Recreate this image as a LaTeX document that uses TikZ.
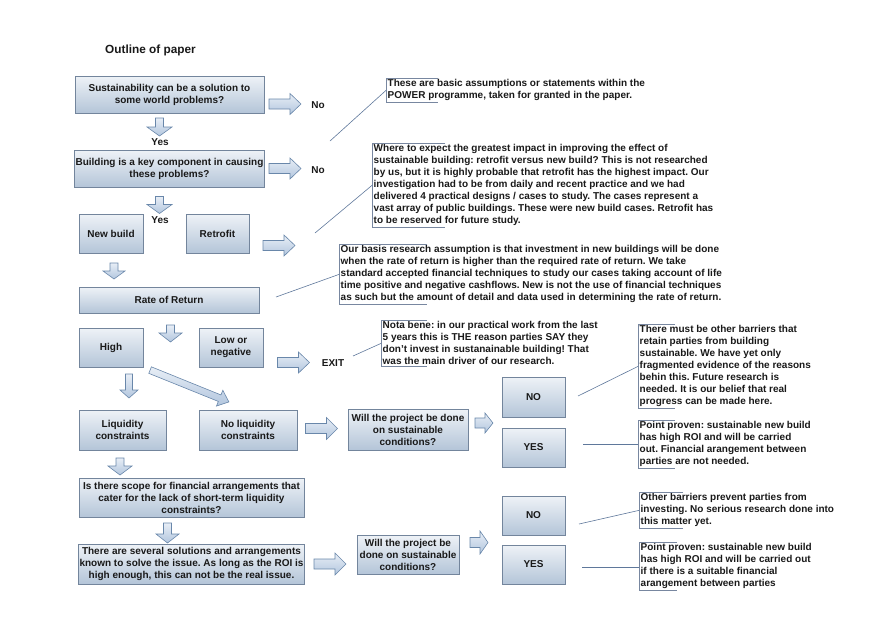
\documentclass[tikz,border=0pt]{standalone}
\usepackage{fontspec}
\setmainfont{Liberation Sans}
\usetikzlibrary{calc}
\frenchspacing
\definecolor{boxtop}{RGB}{238,242,247}
\definecolor{boxbot}{RGB}{180,197,216}
\definecolor{boxline}{RGB}{115,133,156}
\definecolor{arrline}{RGB}{105,135,170}
\definecolor{arrtop}{RGB}{232,238,246}
\definecolor{arrbot}{RGB}{178,198,222}
\definecolor{callline}{RGB}{120,135,160}
\definecolor{leadline}{RGB}{95,120,155}
\newcommand\blockarrow[6]{% center, angle, length, head width, shaft width, head length
  \begin{scope}[shift={(#1)},rotate=#2]
    \shade[arrowbody]
      ({-#3/2},{-#5/2}) -- ({#3/2-#6},{-#5/2}) -- ({#3/2-#6},{-#4/2}) -- ({#3/2},0)
      -- ({#3/2-#6},{#4/2}) -- ({#3/2-#6},{#5/2}) -- ({-#3/2},{#5/2}) -- cycle;
  \end{scope}}
\newcommand\mycallout[4]{% name, north west, bracket length, text
  \node[callout] (#1) at (#2) {#4};
  \draw[bracket] ([xshift=#3]#1.north west) -- (#1.north west) -- (#1.south west) -- ([xshift=#3]#1.south west);}
\begin{document}
\begin{tikzpicture}[x=1pt,y=-1pt,
  every node/.style={font=\bfseries\fontsize{10}{12}\selectfont\frenchspacing, text=black!90},
  box/.style={draw=boxline, line width=0.7pt, top color=boxtop, bottom color=boxbot,
    align=center, inner sep=1pt},
  arrowbody/.style={draw=arrline, line width=0.6pt, top color=arrtop, bottom color=arrbot},
  callout/.style={anchor=north west, align=left, inner xsep=1.5pt, inner ysep=1.5pt},
  bracket/.style={draw=callline, line width=0.7pt},
  leader/.style={draw=leadline, line width=0.6pt},
  lbl/.style={inner sep=0pt}]
\useasboundingbox (0,0) rectangle (891,630);

% title
\node[lbl, anchor=west, font=\bfseries\fontsize{11.8}{14}\selectfont] (title) at (105,50) {Outline of paper};

% boxes
\node[box, minimum width=189, minimum height=37] (b1) at (169.5,94.5) {Sustainability can be a solution to\\some world problems?};
\node[box, minimum width=189, minimum height=37] (b2) at (169.5,168.5) {Building is a key component in causing\\these problems?};
\node[box, minimum width=64, minimum height=39] (nb) at (111,233.5) {New build};
\node[box, minimum width=63, minimum height=39] (rf) at (217.5,233.5) {Retrofit};
\node[box, minimum width=180, minimum height=26] (rr) at (169,300) {Rate of Return};
\node[box, minimum width=64, minimum height=39] (hi) at (111,347.5) {High};
\node[box, minimum width=64, minimum height=39] (lo) at (231,347.5) {Low or\\negative};
\node[box, minimum width=87, minimum height=40] (lc) at (122.5,430) {Liquidity\\constraints};
\node[box, minimum width=98, minimum height=40] (nlc) at (248,430) {No liquidity\\constraints};
\node[box, minimum width=120, minimum height=41] (w1) at (408,429.5) {Will the project be done\\on sustainable\\conditions?};
\node[box, minimum width=63, minimum height=40] (no1) at (533.5,397) {NO};
\node[box, minimum width=63, minimum height=39] (yes1) at (533.5,447.5) {YES};
\node[box, minimum width=225, minimum height=39] (sc) at (191.5,497.5) {Is there scope for financial arrangements that\\cater for the lack of short-term liquidity\\constraints?};
\node[box, minimum width=225, minimum height=40] (ss) at (191.5,564) {There are several solutions and arrangements\\known to solve the issue. As long as the ROI is\\high enough, this can not be the real issue.};
\node[box, minimum width=102, minimum height=39] (w2) at (408,554.5) {Will the project be\\done on sustainable\\conditions?};
\node[box, minimum width=63, minimum height=39] (no2) at (533.5,515.5) {NO};
\node[box, minimum width=63, minimum height=39] (yes2) at (533.5,564.5) {YES};

% labels
\node[lbl] (no-a) at (318,105) {No};
\node[lbl] (no-b) at (318,170) {No};
\node[lbl] (yes-a) at (160,142) {Yes};
\node[lbl] (yes-b) at (160,220) {Yes};
\node[lbl] (exit) at (333,363) {EXIT};

% block arrows
\blockarrow{285,104}{0}{32}{21}{10}{11}
\blockarrow{285,168.5}{0}{32}{21}{10}{11}
\blockarrow{279,245.5}{0}{32}{21}{10}{11}
\blockarrow{293.5,362.5}{0}{32}{21}{10}{11}
\blockarrow{321.5,428.5}{0}{32}{22}{10}{11}
\blockarrow{330,564}{0}{32}{22}{10}{11}
\blockarrow{484,423}{0}{18}{20}{10}{8}
\blockarrow{479,542.5}{0}{18}{23}{10}{8}
\blockarrow{159.5,127}{-90}{18}{25}{8}{9}
\blockarrow{159.5,205}{-90}{17}{25}{8}{9}
\blockarrow{114,271}{-90}{16}{22}{8}{8}
\blockarrow{170.5,333.5}{-90}{17}{23}{8}{9}
\blockarrow{129,386}{-90}{24}{18}{7}{8}
\blockarrow{120,466.5}{-90}{17}{24}{8}{9}
\blockarrow{167.5,533}{-90}{20}{23}{8}{9}
\blockarrow{189.5,386}{-22}{85}{17}{7}{10}

% callouts
\mycallout{c1}{386,78}{52pt}{These are basic assumptions or statements within the\\POWER programme, taken for granted in the paper.}
\mycallout{c2}{372,143}{73pt}{Where to expect the greatest impact in improving the effect of\\sustainable building: retrofit versus new build? This is not researched\\by us, but it is highly probable that retrofit has the highest impact. Our\\investigation had to be from daily and recent practice and we had\\delivered 4 practical designs / cases to study. The cases represent a\\vast array of public buildings. These were new build cases. Retrofit has\\to be reserved for future study.}
\mycallout{c3}{339,244}{88pt}{Our basis research assumption is that investment in new buildings will be done\\when the rate of return is higher than the required rate of return. We take\\standard accepted financial techniques to study our cases taking account of life\\time positive and negative cashflows. New is not the use of financial techniques\\as such but the amount of detail and data used in determining the rate of return.}
\mycallout{c4}{381,320}{46pt}{Nota bene: in our practical work from the last\\5 years this is THE reason parties SAY they\\don't invest in sustanainable building! That\\was the main driver of our research.}
\mycallout{c5}{638,324}{37pt}{There must be other barriers that\\retain parties from building\\sustainable. We have yet only\\fragmented evidence of the reasons\\behin this. Future research is\\needed. It is our belief that real\\progress can be made here.}
\mycallout{c6}{638,420}{37pt}{Point proven: sustainable new build\\has high ROI and will be carried\\out. Financial arangement between\\parties are not needed.}
\mycallout{c7}{639,492}{44pt}{Other barriers prevent parties from\\investing. No serious research done into\\this matter yet.}
\mycallout{c8}{639,542}{38pt}{Point proven: sustainable new build\\has high ROI and will be carried out\\if there is a suitable financial\\arangement between parties}

% leader lines
\coordinate (l1) at (330,141);
\coordinate (l2) at (315,233);
\coordinate (l3) at (276,297);
\coordinate (l4) at (353,356);
\coordinate (l5) at (578,396);
\coordinate (l6) at (583,444);
\coordinate (l7) at (579,524);
\coordinate (l8) at (582,567);
\draw[leader] (l1) -- (c1.west);
\draw[leader] (l2) -- (c2.west);
\draw[leader] (l3) -- (c3.west);
\draw[leader] (l4) -- (c4.west);
\draw[leader] (l5) -- (c5.west);
\draw[leader] (l6) -- (l6 -| c6.west);
\draw[leader] (l7) -- (c7.west);
\draw[leader] (l8) -- (l8 -| c8.west);
\end{tikzpicture}
\end{document}
